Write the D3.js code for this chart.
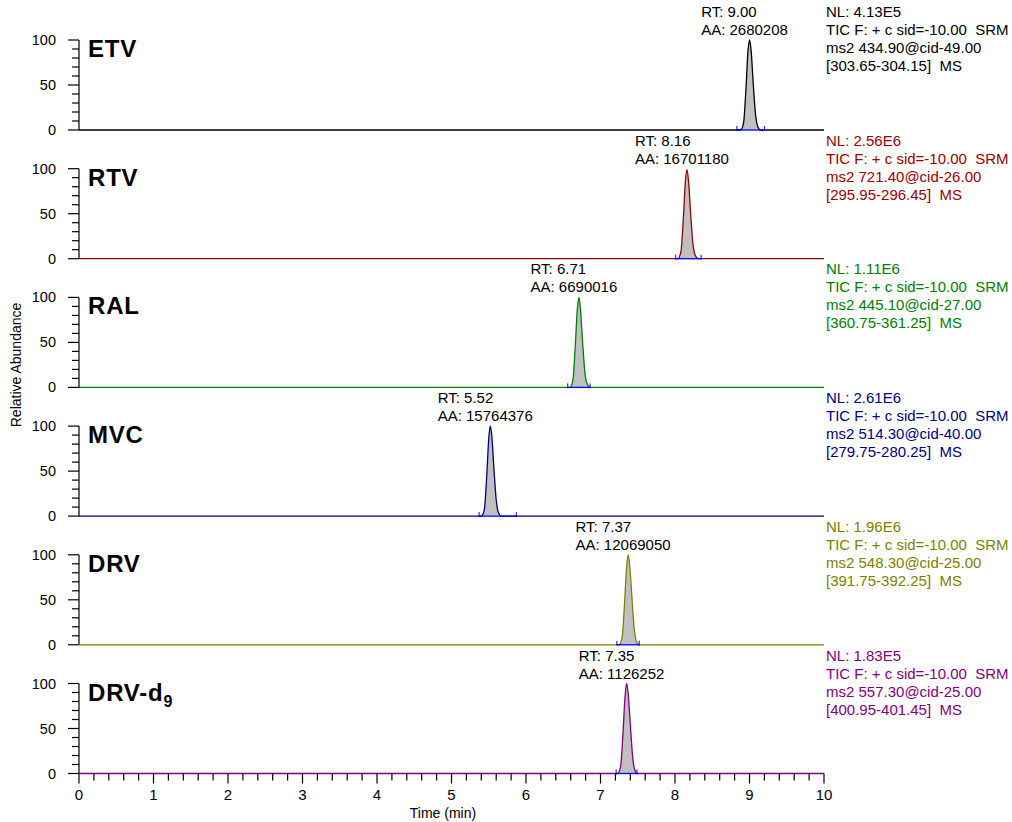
<!DOCTYPE html>
<html>
<head>
<meta charset="utf-8">
<script src="https://cdn.jsdelivr.net/npm/d3@7"></script>
<style>
  body { margin: 0; background: #fff; }
  text { font-family: "Liberation Sans", Arial, sans-serif; white-space: pre; }
</style>
</head>
<body>
<div id="chart"></div>
<script>
// compound names (top to bottom)
const compounds = ["ETV", "RTV", "RAL", "MVC", "DRV", "DRV-d9"];
const traceColors = ["#000000", "#990000", "#008000", "#000080", "#808000", "#800080"];
const retentionTimes = ["9.00", "8.16", "6.71", "5.52", "7.37", "7.35"];
const peakAreas = ["2680208", "16701180", "6690016", "15764376", "12069050", "1126252"];
const normLevels = ["4.13E5", "2.56E6", "1.11E6", "2.61E6", "1.96E6", "1.83E5"];
const ms2Lines = ["ms2 434.90@cid-49.00", "ms2 721.40@cid-26.00", "ms2 445.10@cid-27.00",
  "ms2 514.30@cid-40.00", "ms2 548.30@cid-25.00", "ms2 557.30@cid-25.00"];
const massRanges = ["[303.65-304.15]  MS", "[295.95-296.45]  MS", "[360.75-361.25]  MS",
  "[279.75-280.25]  MS", "[391.75-392.25]  MS", "[400.95-401.45]  MS"];

// chromatogram traces (time in min, relative abundance)
const etvTime = [0, 8.88, 8.92, 8.95, 8.98, 9.00, 9.02, 9.05, 9.08, 9.11, 9.15, 10];
const etvInt  = [0, 0, 8, 42, 88, 100, 90, 52, 18, 4, 0, 0];
const rtvTime = [0, 8.04, 8.08, 8.11, 8.14, 8.16, 8.18, 8.21, 8.24, 8.27, 8.31, 10];
const rtvInt  = [0, 0, 8, 42, 86, 99, 88, 50, 17, 4, 0, 0];
const ralTime = [0, 6.59, 6.63, 6.66, 6.69, 6.71, 6.73, 6.76, 6.79, 6.82, 6.86, 10];
const ralInt  = [0, 0, 8, 44, 88, 100, 88, 50, 17, 4, 0, 0];
const mvcTime = [0, 5.40, 5.44, 5.47, 5.50, 5.52, 5.54, 5.57, 5.60, 5.63, 5.67, 10];
const mvcInt  = [0, 0, 7, 40, 86, 100, 90, 52, 18, 4, 0, 0];
const drvTime = [0, 7.25, 7.29, 7.32, 7.35, 7.37, 7.39, 7.42, 7.45, 7.48, 7.52, 10];
const drvInt  = [0, 0, 8, 42, 86, 100, 90, 55, 20, 4, 0, 0];
const drvdTime = [0, 7.23, 7.27, 7.30, 7.33, 7.35, 7.37, 7.40, 7.43, 7.46, 7.50, 10];
const drvdInt  = [0, 0, 8, 42, 86, 100, 90, 55, 20, 4, 0, 0];
const traces = [[etvTime, etvInt], [rtvTime, rtvInt], [ralTime, ralInt],
  [mvcTime, mvcInt], [drvTime, drvInt], [drvdTime, drvdInt]];

// integration baseline limits (min)
const integStart = [8.83, 8.01, 6.56, 5.37, 7.22, 7.21];
const integEnd   = [9.20, 8.35, 6.86, 5.87, 7.52, 7.49];

const xTicks = [0, 1, 2, 3, 4, 5, 6, 7, 8, 9, 10];
const yTicks = [0, 50, 100];

const width = 1012, height = 822;
const panelTop = 40, panelStep = 128.7, panelH = 90;

const svg = d3.select("#chart").append("svg")
  .attr("width", width)
  .attr("height", height);

const x = d3.scaleLinear().domain([0, 10]).range([79, 824]);

compounds.forEach((name, i) => {
  const top = panelTop + i * panelStep;
  const y = d3.scaleLinear().domain([0, 100]).range([top + panelH, top]);
  const g = svg.append("g");
  const col = traceColors[i];

  // y axis with minor ticks
  g.append("line")
    .attr("x1", x(0)).attr("x2", x(0))
    .attr("y1", y(0)).attr("y2", y(100))
    .attr("stroke", "#000").attr("stroke-width", 1.2);
  d3.range(0, 101, 10).forEach(v => {
    const major = v % 50 === 0;
    g.append("line")
      .attr("x1", x(0) - (major ? 11 : 7)).attr("x2", x(0))
      .attr("y1", y(v)).attr("y2", y(v))
      .attr("stroke", "#000").attr("stroke-width", 1.2);
  });
  yTicks.forEach(v => {
    g.append("text")
      .attr("x", 56).attr("y", y(v) + 5)
      .attr("text-anchor", "end")
      .attr("font-size", 14.5)
      .text(v);
  });

  // compound name
  const lbl = g.append("text")
    .attr("x", 88).attr("y", top + 17)
    .attr("font-size", 24).attr("font-weight", "bold")
    .attr("letter-spacing", 0.8);
  if (name === "DRV-d9") {
    lbl.text("DRV-d");
    lbl.append("tspan").attr("font-size", 16).attr("dy", 6).text("9");
  } else {
    lbl.text(name);
  }

  // trace
  const [tArr, iArr] = traces[i];
  const pts = tArr.map((t, k) => [t, iArr[k]]);
  const peakPts = pts.filter(p => p[0] > 0 && p[0] < 10);
  g.append("path")
    .datum(peakPts)
    .attr("fill", "#c0c0c0")
    .attr("stroke", "none")
    .attr("d", d3.area().x(d => x(d[0])).y0(y(0)).y1(d => y(d[1])).curve(d3.curveMonotoneX));
  g.append("path")
    .datum(pts)
    .attr("fill", "none")
    .attr("stroke", col)
    .attr("stroke-width", 1.3)
    .attr("d", d3.line().x(d => x(d[0])).y(d => y(d[1])).curve(d3.curveMonotoneX));

  // integration baseline
  g.append("line")
    .attr("x1", x(integStart[i])).attr("x2", x(integEnd[i]))
    .attr("y1", y(0)).attr("y2", y(0))
    .attr("stroke", "#0000ff").attr("stroke-width", 1.3);
  [integStart[i], integEnd[i]].forEach(t => {
    g.append("line")
      .attr("x1", x(t)).attr("x2", x(t))
      .attr("y1", y(0) - 4).attr("y2", y(0) + 1)
      .attr("stroke", "#0000ff").attr("stroke-width", 1);
  });

  // peak annotation
  const peakX = x(+retentionTimes[i]);
  const aa = g.append("text")
    .attr("y", top - 5).attr("font-size", 15)
    .text("AA: " + peakAreas[i]);
  const w = aa.node().getComputedTextLength();
  const left = peakX - 5 - w / 2;
  aa.attr("x", left);
  g.append("text")
    .attr("x", left).attr("y", top - 23).attr("font-size", 15)
    .text("RT: " + retentionTimes[i]);

  // right-hand info
  const info = ["NL: " + normLevels[i], "TIC F: + c sid=-10.00  SRM", ms2Lines[i], massRanges[i]];
  info.forEach((s, k) => {
    g.append("text")
      .attr("x", 826).attr("y", top - 23 + k * 18)
      .attr("font-size", 15)
      .attr("fill", col)
      .text(s);
  });
});

// x axis on the bottom panel
const baseY = panelTop + 5 * panelStep + panelH;
d3.range(0, 50.5, 1).forEach(k => {
  const t = k / 5;
  const major = k % 5 === 0;
  svg.append("line")
    .attr("x1", x(t)).attr("x2", x(t))
    .attr("y1", baseY).attr("y2", baseY + (major ? 10 : 7))
    .attr("stroke", "#000").attr("stroke-width", 1.2);
});
xTicks.forEach(t => {
  svg.append("text")
    .attr("x", x(t)).attr("y", 800)
    .attr("text-anchor", "middle")
    .attr("font-size", 15)
    .text(t);
});
svg.append("text")
  .attr("x", 443).attr("y", 818)
  .attr("text-anchor", "middle")
  .attr("font-size", 14)
  .text("Time (min)");
svg.append("text")
  .attr("transform", "translate(21,365) rotate(-90)")
  .attr("text-anchor", "middle")
  .attr("font-size", 14)
  .text("Relative Abundance");
</script>
</body>
</html>
